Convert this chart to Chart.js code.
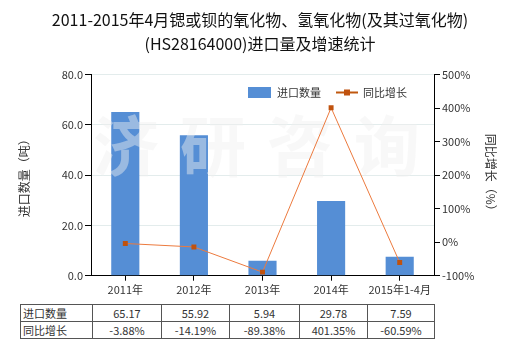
<!DOCTYPE html>
<html>
<head>
<meta charset="utf-8">
<script src="https://cdn.jsdelivr.net/npm/chart.js@4.4.1/dist/chart.umd.min.js"></script>
<style>
  body { margin: 0; background: #fff; font-family: "Noto Sans CJK SC", "Noto Sans", sans-serif; }
  #wrap { position: relative; width: 520px; height: 350px; }
  #dataTable {
    position: absolute; left: 20px; top: 304px;
    border-collapse: collapse; font-size: 11px; color: #333;
  }
  #dataTable td { border: 1px solid #555; height: 16px; padding: 0; text-align: center; line-height: 16px; }
  #dataTable td.head { text-align: left; padding-left: 2px; }
</style>
</head>
<body>
<div id="wrap">
  <canvas id="myChart" width="520" height="300"></canvas>
  <table id="dataTable"></table>
</div>
<script>
const years = ['2011年', '2012年', '2013年', '2014年', '2015年1-4月'];
const quantity = [65.17, 55.92, 5.94, 29.78, 7.59];
const growth = [-3.88, -14.19, -89.38, 401.35, -60.59];
const quantityTicks = [0, 20, 40, 60, 80];
const growthTicks = [-100, 0, 100, 200, 300, 400, 500];

const barColor = '#558ED5';
const lineColor = '#EC7A3E';
const pointColor = '#C0520E';
const fontFamily = '"Noto Sans CJK SC", "Noto Sans", sans-serif';

// table under the chart
const colWidths = [70, 69, 68, 70, 68, 67];
const table = document.getElementById('dataTable');
[['进口数量', quantity.map(v => v.toFixed(2))],
 ['同比增长', growth.map(v => v.toFixed(2) + '%')]].forEach(([name, vals]) => {
  const tr = document.createElement('tr');
  [name, ...vals].forEach((t, i) => {
    const td = document.createElement('td');
    td.textContent = t;
    td.style.width = (colWidths[i] - 1) + 'px';
    if (i === 0) td.className = 'head';
    tr.appendChild(td);
  });
  table.appendChild(tr);
});

// faint watermark between bars and line, plus the legend inside the plot
const extras = {
  id: 'extras',
  afterDatasetDraw(chart, args) {
    if (args.index !== 0) return;
    const ctx = chart.ctx;
    ctx.save();
    ctx.font = 'bold 66px ' + fontFamily;
    ctx.textBaseline = 'middle';
    ctx.fillStyle = 'rgba(240,240,240,0.45)';
    '济研咨询'.split('').forEach((ch, i) => ctx.fillText(ch, 93 + i * 87, 146));
    ctx.restore();
  },
  afterDraw(chart) {
    const ctx = chart.ctx;
    ctx.save();
    ctx.font = '11px ' + fontFamily;
    ctx.textBaseline = 'middle';
    ctx.fillStyle = barColor;
    ctx.fillRect(248, 87, 23, 11);
    ctx.fillStyle = '#333';
    ctx.fillText('进口数量', 277, 92.5);
    ctx.strokeStyle = '#C0580F';
    ctx.lineWidth = 2;
    ctx.beginPath();
    ctx.moveTo(336, 92.5);
    ctx.lineTo(358, 92.5);
    ctx.stroke();
    ctx.fillStyle = pointColor;
    ctx.fillRect(344, 89.5, 6, 6);
    ctx.fillStyle = '#333';
    ctx.fillText('同比增长', 363, 92.5);
    ctx.restore();
  }
};

Chart.defaults.font.family = fontFamily;
Chart.defaults.font.size = 11;
Chart.defaults.color = '#333';

const ctx = document.getElementById('myChart').getContext('2d');
new Chart(ctx, {
  data: {
    labels: years,
    datasets: [{
      type: 'bar',
      label: '进口数量',
      data: quantity,
      backgroundColor: barColor,
      yAxisID: 'y',
      order: 1,
      barPercentage: 0.41,
      categoryPercentage: 1
    }, {
      type: 'line',
      label: '同比增长',
      data: growth,
      borderColor: lineColor,
      borderWidth: 1,
      pointStyle: 'rect',
      pointRadius: 3.5,
      pointBackgroundColor: pointColor,
      pointBorderColor: pointColor,
      pointBorderWidth: 0,
      yAxisID: 'y1',
      order: 0
    }]
  },
  options: {
    responsive: false,
    animation: false,
    layout: { padding: 0 },
    plugins: {
      legend: { display: false },
      tooltip: { enabled: false },
      title: {
        display: true,
        text: ['2011-2015年4月锶或钡的氧化物、氢氧化物(及其过氧化物)', '(HS28164000)进口量及增速统计'],
        color: '#111',
        font: { size: 16, weight: 'normal', lineHeight: 1.5 },
        padding: { top: 8, bottom: 18.7 }
      }
    },
    scales: {
      x: {
        grid: { offset: false, drawOnChartArea: false, tickLength: 5, tickColor: '#000' },
        border: { color: '#000' },
        ticks: { padding: 3, maxRotation: 0 },
        afterFit(scale) { scale.height = 24.3; }
      },
      y: {
        position: 'left',
        min: 0, max: 80,
        afterBuildTicks(scale) { scale.ticks = quantityTicks.map(v => ({ value: v })); },
        ticks: { padding: 2, callback: v => v.toFixed(1) },
        grid: { color: '#E3ECEC', tickLength: 6, tickColor: '#000' },
        border: { color: '#000' },
        title: { display: true, text: '进口数量（吨）', font: { size: 12 }, padding: { top: 17, bottom: 0 } },
        afterFit(scale) { scale.width = 91; }
      },
      y1: {
        position: 'right',
        min: -100, max: 500,
        afterBuildTicks(scale) { scale.ticks = growthTicks.map(v => ({ value: v })); },
        ticks: { padding: 2, callback: v => v + '%' },
        grid: { drawOnChartArea: false, tickLength: 6, tickColor: '#000' },
        border: { color: '#000' },
        title: { display: true, text: '同比增长（%）', font: { size: 12 }, padding: { top: 22, bottom: 0 } },
        afterFit(scale) { scale.width = 86; }
      }
    }
  },
  plugins: [extras]
});
</script>
</body>
</html>
